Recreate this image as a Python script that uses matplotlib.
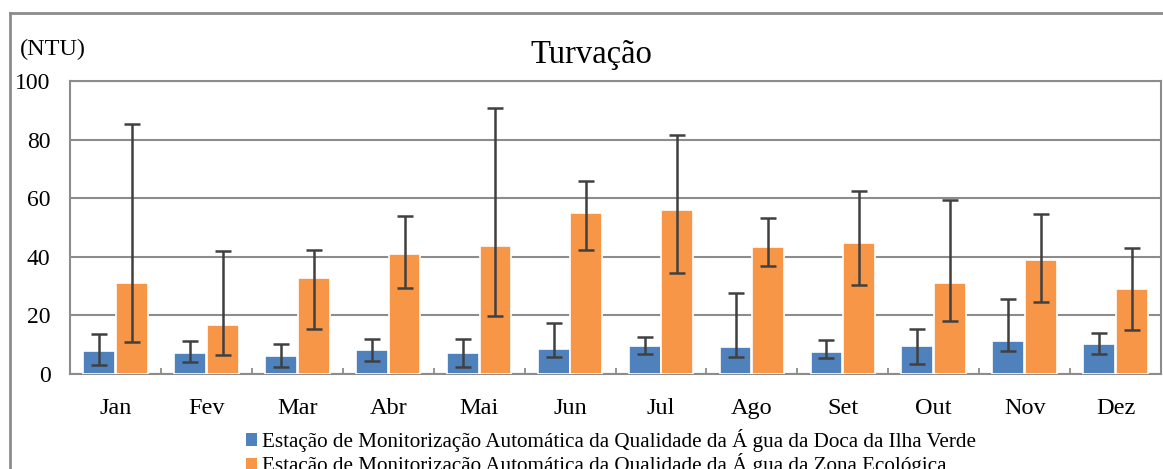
import numpy as np
import matplotlib
matplotlib.use("Agg")
import matplotlib.pyplot as plt
from matplotlib.patches import Patch
from matplotlib.lines import Line2D

plt.rcParams["font.family"] = ["Liberation Serif", "DejaVu Serif"]

# 月份与两站浊度（均值、误差上下限）
months = ["Jan", "Fev", "Mar", "Abr", "Mai", "Jun", "Jul", "Ago", "Set", "Out", "Nov", "Dez"]
ilha_verde = [8.0, 7.3, 6.1, 8.3, 7.3, 8.6, 9.4, 9.3, 7.4, 9.7, 11.3, 10.2]
ilha_verde_max = [13.5, 11.3, 10.1, 12.1, 11.8, 17.3, 12.6, 27.6, 11.6, 15.5, 25.6, 13.9]
ilha_verde_min = [3.1, 4.1, 2.5, 4.5, 2.4, 5.9, 6.9, 5.7, 5.5, 3.4, 7.8, 6.9]
zona_eco = [31.0, 16.7, 32.8, 41.0, 43.6, 55.1, 56.0, 43.3, 44.6, 31.2, 38.9, 28.9]
zona_eco_max = [85.2, 42.0, 42.3, 54.0, 90.7, 65.8, 81.5, 53.4, 62.3, 59.3, 54.5, 42.9]
zona_eco_min = [10.9, 6.4, 15.2, 29.5, 19.9, 42.4, 34.6, 37.0, 30.5, 18.2, 24.7, 14.9]

labels = [
    "Estação de Monitorização Automática da Qualidade da Á gua da Doca da Ilha Verde",
    "Estação de Monitorização Automática da Qualidade da Á gua da Zona Ecológica",
]
c_blue = "#4F81BD"
c_orange = "#F79646"
c_grid = "#8c8c8c"
c_err = "#404040"

fig = plt.figure(figsize=(11.63, 4.69), dpi=100)
ax = fig.add_axes([70 / 1163, 1 - 374 / 469, (1161 - 70) / 1163, (374 - 81) / 469])

x = np.arange(len(months))
w = 0.35
off = 0.18


def err(vals, lo, hi):
    v = np.asarray(vals)
    return [v - np.asarray(lo), np.asarray(hi) - v]


ax.bar(x - off, ilha_verde, w, color=c_blue, edgecolor="white", linewidth=1.2, zorder=3)
ax.bar(x + off, zona_eco, w, color=c_orange, edgecolor="white", linewidth=1.2, zorder=3)
ax.errorbar(x - off, ilha_verde, yerr=err(ilha_verde, ilha_verde_min, ilha_verde_max),
            fmt="none", ecolor=c_err, elinewidth=1.8, capsize=6, capthick=1.8, zorder=4)
ax.errorbar(x + off, zona_eco, yerr=err(zona_eco, zona_eco_min, zona_eco_max),
            fmt="none", ecolor=c_err, elinewidth=1.8, capsize=6, capthick=1.8, zorder=4)

ax.set_xlim(-0.5, len(months) - 0.5)
ax.set_ylim(0, 100)
ax.set_yticks(np.arange(0, 101, 20))
ax.yaxis.grid(True, color=c_grid, linewidth=1.5, zorder=0)
ax.set_axisbelow(True)
for sp in ax.spines.values():
    sp.set_color(c_grid)
    sp.set_linewidth(1.5)

ax.set_xticks(x)
ax.set_xticklabels(months)
ax.set_xticks(np.arange(0.5, len(months) - 0.5, 1), minor=True)
ax.tick_params(axis="x", which="major", length=0, pad=17, labelsize=17.5)
ax.tick_params(axis="x", which="minor", direction="in", length=4.5, width=1.3, color=c_grid)
ax.tick_params(axis="y", length=0, pad=14, labelsize=17)

fig.text(591 / 1163, 1 - 63 / 469, "Turvação", fontsize=23.5, ha="center", va="baseline")
fig.text(20 / 1163, 1 - 49 / 469, "(NTU)", fontsize=17.5, va="center", ha="left")

# 外框（被裁切，只见左边与上边）
fig.add_artist(Line2D([10 / 1163, 10 / 1163], [0, 1 - 13 / 469], transform=fig.transFigure,
                      color=c_grid, linewidth=2))
fig.add_artist(Line2D([10 / 1163, 1], [1 - 13 / 469, 1 - 13 / 469], transform=fig.transFigure,
                      color=c_grid, linewidth=2))

handles = [Patch(facecolor=c_blue, edgecolor="none"), Patch(facecolor=c_orange, edgecolor="none")]
fig.legend(handles, labels, loc="upper left", bbox_to_anchor=(246 / 1163, 1 - 429 / 469),
           frameon=False, fontsize=15.2, handlelength=0.5, handleheight=0.5,
           handletextpad=0.25, labelspacing=0.05, borderpad=0, borderaxespad=0)

fig.savefig("out.png", dpi=100)
